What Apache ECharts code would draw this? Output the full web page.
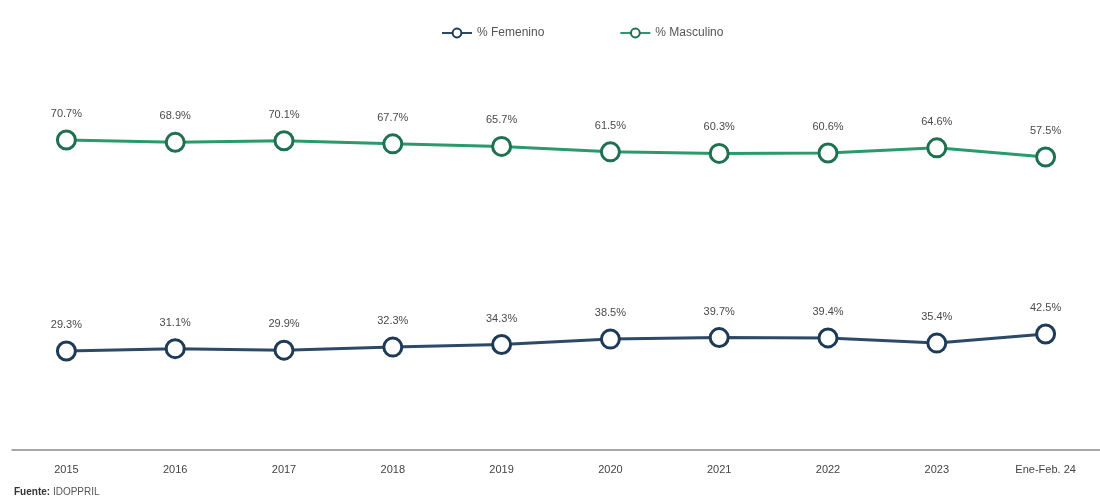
<!DOCTYPE html>
<html>
<head>
<meta charset="utf-8">
<script src="https://cdn.jsdelivr.net/npm/echarts@6/dist/echarts.min.js"></script>
<style>
  html, body { margin: 0; padding: 0; background: #fff; }
  #chart { width: 1100px; height: 504px; }
  .fuente { position: absolute; left: 14px; top: 486px; font: 10px "Liberation Sans", Arial, sans-serif; color: #555; }
  .fuente b { color: #333; }
</style>
</head>
<body>
<div id="chart"></div>
<div class="fuente"><b>Fuente:</b> IDOPPRIL</div>
<script>
const years = ['2015', '2016', '2017', '2018', '2019', '2020', '2021', '2022', '2023', 'Ene-Feb. 24']
const femenino = [29.3, 31.1, 29.9, 32.3, 34.3, 38.5, 39.7, 39.4, 35.4, 42.5]
const masculino = [70.7, 68.9, 70.1, 67.7, 65.7, 61.5, 60.3, 60.6, 64.6, 57.5]

const chart = echarts.init(document.getElementById('chart'))

const labelStyle = {
  show: true,
  position: 'top',
  distance: 10,
  fontSize: 11,
  color: '#4a4a4a',
  fontFamily: 'Liberation Sans, Arial, sans-serif',
  formatter: p => p.value.toFixed(1) + '%'
}

chart.setOption({
  animation: false,
  legend: {
    top: 22,
    left: 436,
    itemGap: 75,
    itemWidth: 30,
    itemHeight: 11,
    textStyle: { fontSize: 12, color: '#555', fontFamily: 'Liberation Sans, Arial, sans-serif' },
    data: ['% Femenino', '% Masculino']
  },
  grid: { left: 12, right: 0, top: 60, bottom: 54 },
  xAxis: {
    type: 'category',
    data: years,
    boundaryGap: true,
    axisLine: { onZero: false, lineStyle: { color: '#8a8a8a', width: 1.5 } },
    axisTick: { show: false },
    axisLabel: { color: '#444', fontSize: 11, margin: 14, fontFamily: 'Liberation Sans, Arial, sans-serif' }
  },
  yAxis: [
    { type: 'value', min: -47.6, max: 255.2, show: false },
    { type: 'value', min: -170, max: 132.8, show: false }
  ],
  series: [
    {
      name: '% Femenino',
      type: 'line',
      yAxisIndex: 0,
      data: femenino,
      symbol: 'circle',
      symbolSize: 18,
      lineStyle: { color: '#2c4a68', width: 3 },
      itemStyle: { color: '#fff', borderColor: '#1d3a56', borderWidth: 3 },
      label: labelStyle
    },
    {
      name: '% Masculino',
      type: 'line',
      yAxisIndex: 1,
      data: masculino,
      symbol: 'circle',
      symbolSize: 18,
      lineStyle: { color: '#2a9a6c', width: 3 },
      itemStyle: { color: '#fff', borderColor: '#1f7050', borderWidth: 3 },
      label: labelStyle
    }
  ]
})
</script>
</body>
</html>
